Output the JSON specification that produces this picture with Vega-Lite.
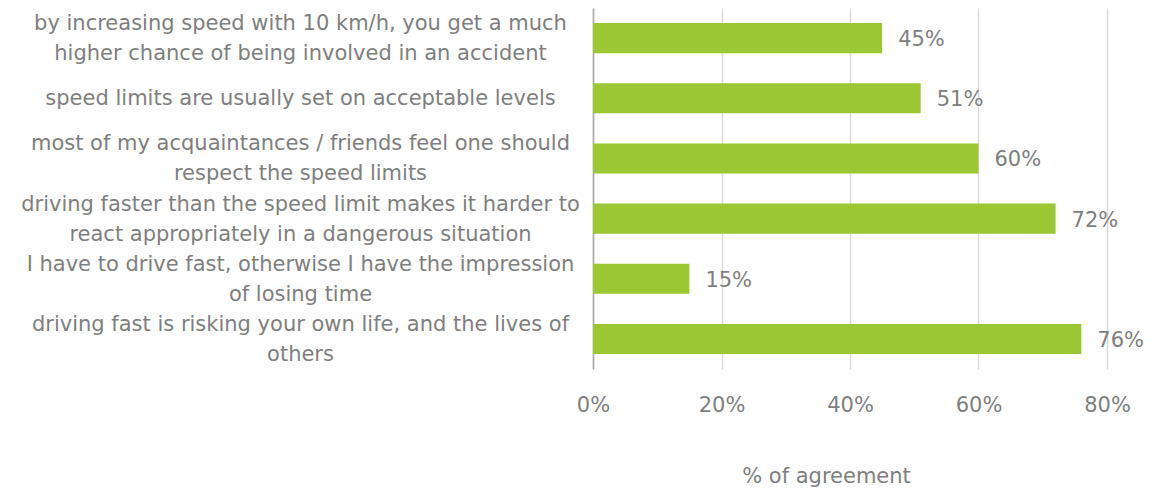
{
  "$schema": "https://vega.github.io/schema/vega-lite/v6.json",
  "autosize": "none",
  "width": 514,
  "height": 361,
  "padding": {"left": 593, "top": 8, "right": 49, "bottom": 121},
  "background": "white",
  "config": {
    "view": {"stroke": null},
    "font": "DejaVu Sans"
  },
  "data": {
    "values": [
      {"statement": "by increasing speed with 10 km/h, you get a much|higher chance of being involved in an accident", "agreement": 0.45},
      {"statement": "speed limits are usually set on acceptable levels", "agreement": 0.51},
      {"statement": "most of my acquaintances / friends feel one should|respect the speed limits", "agreement": 0.60},
      {"statement": "driving faster than the speed limit makes it harder to|react appropriately  in a dangerous situation", "agreement": 0.72},
      {"statement": "I have to drive fast, otherwise I have the impression|of losing time", "agreement": 0.15},
      {"statement": "driving fast is risking your own life, and the lives of|others", "agreement": 0.76}
    ]
  },
  "encoding": {
    "y": {
      "field": "statement",
      "type": "nominal",
      "sort": null,
      "scale": {"paddingInner": 0.5, "paddingOuter": 0.25},
      "axis": {
        "title": null,
        "labelExpr": "split(datum.label, '|')",
        "labelFont": "DejaVu Sans",
        "labelFontSize": 21,
        "labelColor": "#7F7F7F",
        "labelLimit": 700,
        "labelLineHeight": 30,
        "labelAlign": "center",
        "labelBaseline": "middle",
        "labelOffset": {"condition": {"test": "indexof(datum.value, '|') >= 0", "value": -14}, "value": 1},
        "labelPadding": 293,
        "ticks": false,
        "domain": true,
        "domainColor": "#A6A6A6",
        "domainWidth": 1.5,
        "grid": false
      }
    },
    "x": {
      "field": "agreement",
      "type": "quantitative",
      "scale": {"domain": [0, 0.8], "nice": false},
      "axis": {
        "title": "% of agreement",
        "format": ".0%",
        "values": [0, 0.2, 0.4, 0.6, 0.8],
        "labelFont": "DejaVu Sans",
        "labelFontSize": 21,
        "labelColor": "#7F7F7F",
        "labelPadding": 25,
        "labelBaseline": "top",
        "labelFlush": false,
        "titleFont": "DejaVu Sans",
        "titleFontSize": 21,
        "titleFontWeight": "normal",
        "titleColor": "#7F7F7F",
        "titlePadding": 50,
        "titleX": 233,
        "domain": false,
        "ticks": false,
        "grid": true,
        "gridColor": "#D9D9D9",
        "gridWidth": 1.5
      }
    }
  },
  "layer": [
    {"mark": {"type": "bar", "color": "#9BC832"}},
    {
      "mark": {"type": "text", "align": "left", "baseline": "middle", "dx": 16, "dy": 2, "fontSize": 21, "color": "#7F7F7F", "font": "DejaVu Sans"},
      "encoding": {"text": {"field": "agreement", "type": "quantitative", "format": ".0%"}}
    }
  ]
}
